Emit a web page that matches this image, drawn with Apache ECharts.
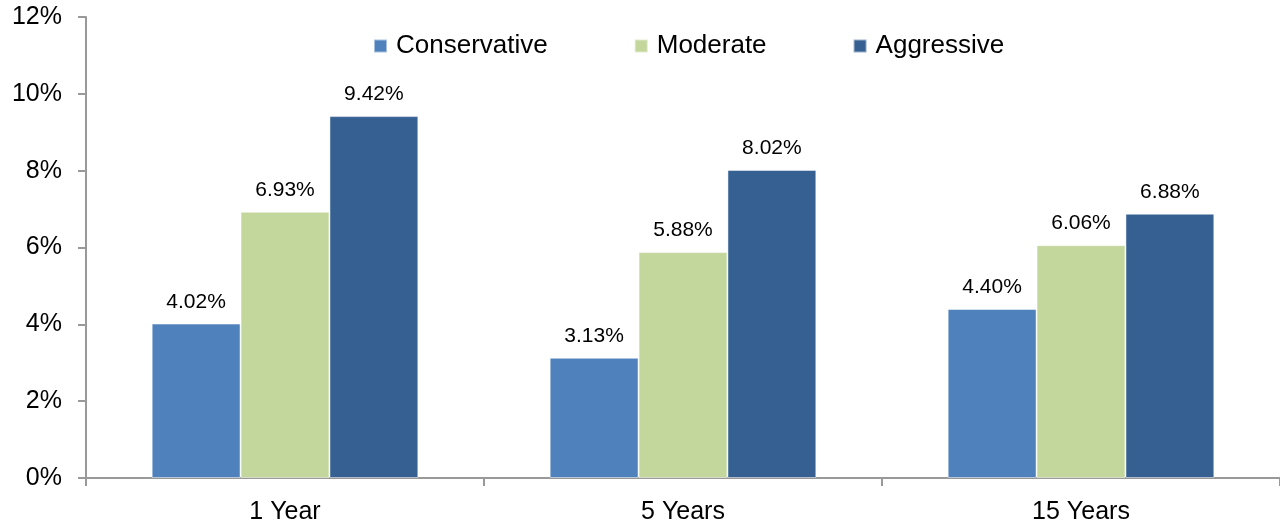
<!DOCTYPE html>
<html>
<head>
<meta charset="utf-8">
<script src="https://cdn.jsdelivr.net/npm/echarts@6/dist/echarts.min.js"></script>
<style>
  html, body { margin: 0; padding: 0; background: #fff; }
  #chart { width: 1280px; height: 525px; }
</style>
</head>
<body>
<div id="chart"></div>
<script>
const categories = ['1 Year', '5 Years', '15 Years'];
const conservative = [4.02, 3.13, 4.40];
const moderate = [6.93, 5.88, 6.06];
const aggressive = [9.42, 8.02, 6.88];

const font = 'Liberation Sans, Arial, sans-serif';

const chart = echarts.init(document.getElementById('chart'));

function barSeries(name, data, color) {
  return {
    name: name,
    type: 'bar',
    data: data,
    barGap: 0,
    barCategoryGap: '33%',
    animation: false,
    itemStyle: { color: color, borderColor: 'rgba(255,255,255,0.5)', borderWidth: 1 },
    label: {
      show: true,
      position: 'top',
      distance: 11,
      color: '#000',
      fontFamily: font,
      fontSize: 21,
      formatter: p => p.value.toFixed(2) + '%'
    }
  };
}

chart.setOption({
  backgroundColor: '#fff',
  grid: { left: 86, right: 0, top: 17, bottom: 46 },
  legend: {
    top: 28,
    left: 368,
    itemWidth: 13,
    itemHeight: 13,
    itemGap: 86,
    icon: 'rect',
    textStyle: { fontFamily: font, fontSize: 26, color: '#000', padding: [0, 0, 0, 4] },
    data: ['Conservative', 'Moderate', 'Aggressive']
  },
  xAxis: {
    type: 'category',
    data: categories,
    axisLine: { lineStyle: { color: '#999', width: 2 } },
    axisTick: { show: true, length: 8, lineStyle: { color: '#999', width: 2 } },
    axisLabel: { fontFamily: font, fontSize: 25, color: '#000', margin: 22 }
  },
  yAxis: {
    type: 'value',
    min: 0,
    max: 12,
    interval: 2,
    splitLine: { show: false },
    axisLine: { show: true, lineStyle: { color: '#999', width: 2 } },
    axisTick: { show: true, length: 8, lineStyle: { color: '#999', width: 2 } },
    axisLabel: { fontFamily: font, fontSize: 25, color: '#000', margin: 24, formatter: '{value}%' }
  },
  series: [
    barSeries('Conservative', conservative, '#4F81BD'),
    barSeries('Moderate', moderate, '#C3D69B'),
    barSeries('Aggressive', aggressive, '#376092')
  ]
});
</script>
</body>
</html>
